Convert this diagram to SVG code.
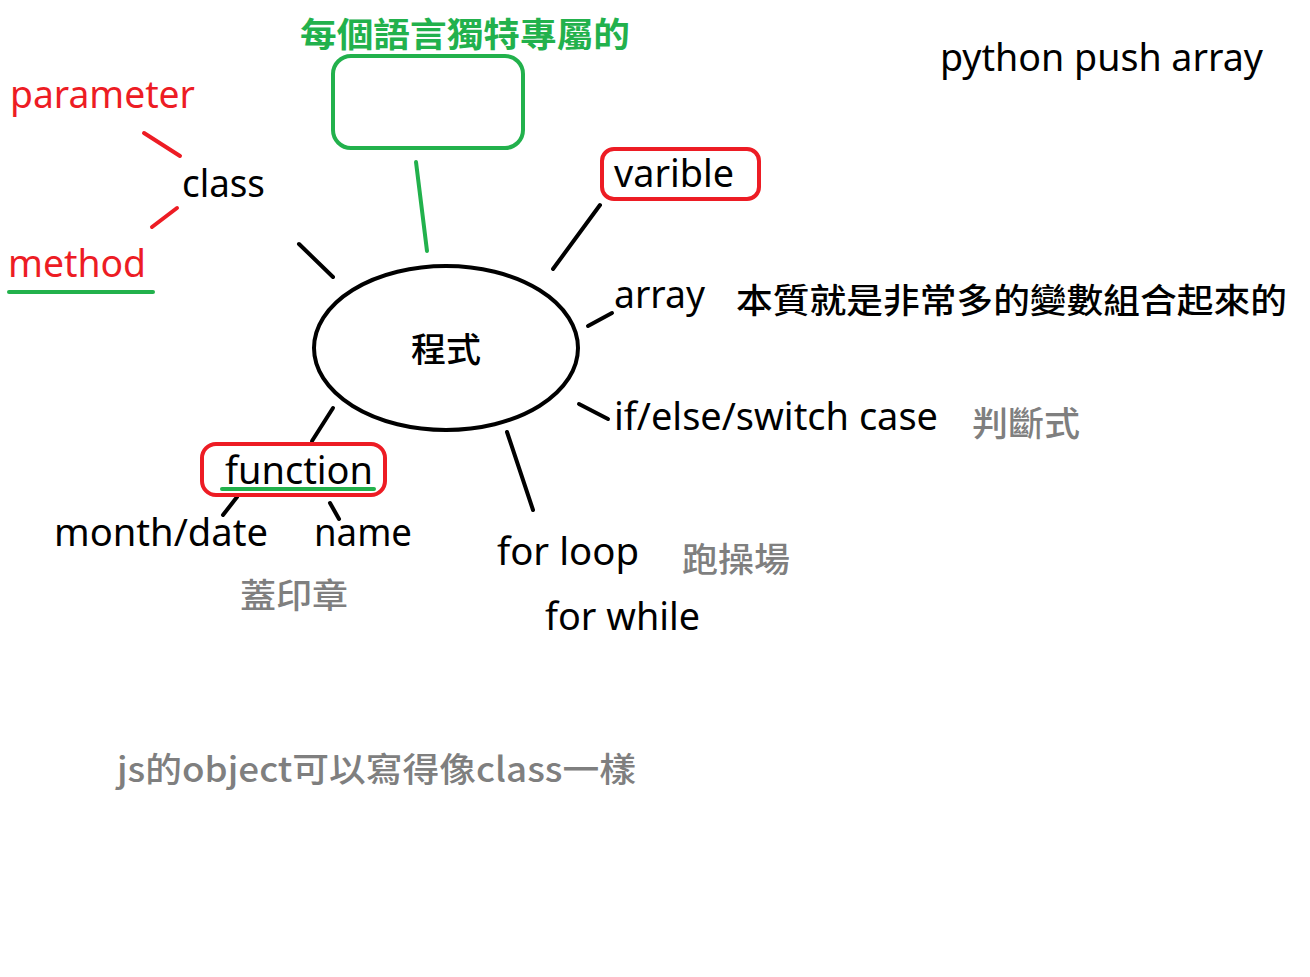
<svg xmlns="http://www.w3.org/2000/svg" width="1310" height="977" viewBox="0 0 1310 977">
<style>
text{font-family:"Noto Sans","Noto Sans CJK TC",sans-serif;font-size:38px}
.k{fill:#000}.r{fill:#ed1c24}.g{fill:#22b14c}.gr{fill:#7f7f7f}
.cj{font-family:"Noto Sans CJK TC",sans-serif;font-size:34px;font-weight:500}
.b{font-weight:700}
.lk{stroke:#000;stroke-width:4;stroke-linecap:round;fill:none}
.lr{stroke:#ed1c24;stroke-width:4;stroke-linecap:round;fill:none}
.lg{stroke:#22b14c;stroke-width:4;stroke-linecap:round;fill:none}
</style>
<rect width="1310" height="977" fill="#fff"/>
<g id="connectors">
<line class="lg" x1="416" y1="162" x2="427" y2="251"/>
<line class="lr" x1="144" y1="133" x2="180" y2="156"/>
<line class="lr" x1="177" y1="208" x2="152" y2="227"/>
<line class="lk" x1="299" y1="244" x2="333" y2="277"/>
<line class="lk" x1="600" y1="205" x2="553" y2="269"/>
<line class="lk" x1="588" y1="326" x2="612" y2="313"/>
<line class="lk" x1="579" y1="404" x2="608" y2="419"/>
<line class="lk" x1="333" y1="408" x2="312" y2="441"/>
<line class="lk" x1="507" y1="432" x2="533" y2="510"/>
<line class="lk" x1="237" y1="497" x2="223" y2="515"/>
<line class="lk" x1="330" y1="503" x2="339" y2="519"/>
</g>
<g id="center"><ellipse cx="446" cy="348" rx="132" ry="82" fill="none" stroke="#000" stroke-width="4"/><text class="k cj" x="411" y="362" textLength="70" lengthAdjust="spacingAndGlyphs">程式</text></g>
<g id="special"><text class="g cj b" x="300" y="47" textLength="330" lengthAdjust="spacingAndGlyphs">每個語言獨特專屬的</text><rect x="333" y="56" width="190" height="92" rx="18" fill="none" stroke="#22b14c" stroke-width="4"/></g>
<g id="parameter"><text class="r" x="10" y="108" textLength="185" lengthAdjust="spacingAndGlyphs">parameter</text></g>
<g id="class"><text class="k" x="182" y="197" textLength="83" lengthAdjust="spacingAndGlyphs">class</text></g>
<g id="method"><text class="r" x="8" y="277" textLength="138" lengthAdjust="spacingAndGlyphs">method</text><line class="lg" x1="9" y1="292" x2="153" y2="292"/></g>
<g id="varible"><rect x="602" y="149" width="157" height="50" rx="12" fill="none" stroke="#ed1c24" stroke-width="4"/><text class="k" x="614" y="187" textLength="120" lengthAdjust="spacingAndGlyphs">varible</text></g>
<g id="python"><text class="k" x="940" y="71" textLength="323" lengthAdjust="spacingAndGlyphs">python push array</text></g>
<g id="array"><text class="k" x="614" y="308" textLength="91" lengthAdjust="spacingAndGlyphs">array</text><text class="k cj" x="736" y="313" textLength="551" lengthAdjust="spacingAndGlyphs">本質就是非常多的變數組合起來的</text></g>
<g id="ifelse"><text class="k" x="614" y="430" textLength="324" lengthAdjust="spacingAndGlyphs">if/else/switch case</text><text class="gr cj" x="972" y="436" textLength="108" lengthAdjust="spacingAndGlyphs">判斷式</text></g>
<g id="function"><rect x="202" y="444" width="183" height="51" rx="14" fill="none" stroke="#ed1c24" stroke-width="4"/><text class="k" x="225" y="484" textLength="148" lengthAdjust="spacingAndGlyphs">function</text><line class="lg" x1="222" y1="489" x2="374" y2="489"/></g>
<g id="monthdate"><text class="k" x="54" y="546" textLength="214" lengthAdjust="spacingAndGlyphs">month/date</text></g>
<g id="name"><text class="k" x="314" y="546" textLength="98" lengthAdjust="spacingAndGlyphs">name</text></g>
<g id="stamp"><text class="gr cj" x="240" y="608" textLength="108" lengthAdjust="spacingAndGlyphs">蓋印章</text></g>
<g id="forloop"><text class="k" x="497" y="565" textLength="142" lengthAdjust="spacingAndGlyphs">for loop</text><text class="gr cj" x="682" y="572" textLength="108" lengthAdjust="spacingAndGlyphs">跑操場</text></g>
<g id="forwhile"><text class="k" x="545" y="630" textLength="155" lengthAdjust="spacingAndGlyphs">for while</text></g>
<g id="note"><text class="gr cj" x="117" y="782" textLength="519" lengthAdjust="spacingAndGlyphs">js的object可以寫得像class一樣</text></g>
</svg>
